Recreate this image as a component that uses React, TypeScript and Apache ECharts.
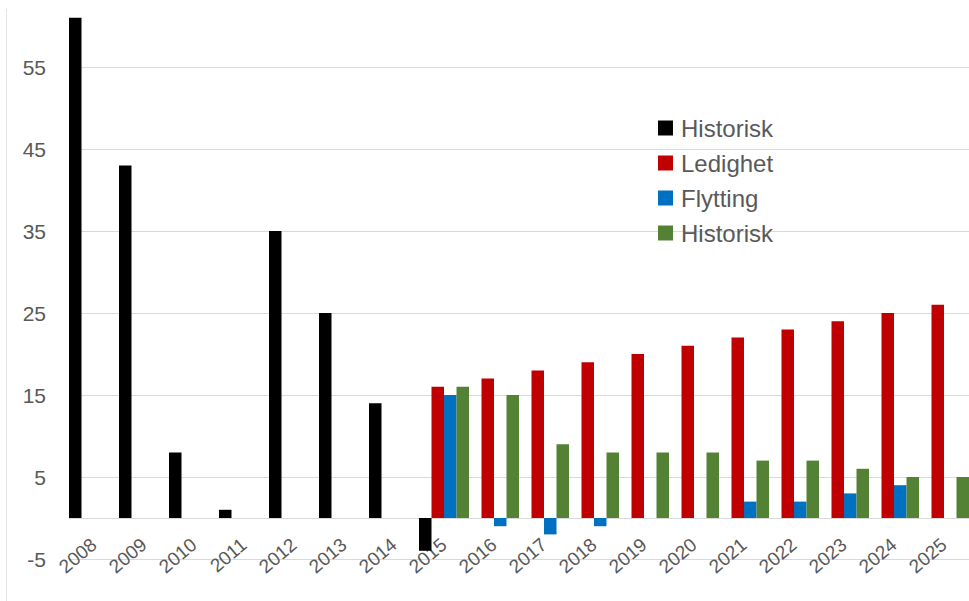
import React, { useEffect, useRef } from "react";
import * as echarts from "echarts";

const categories = ["2008","2009","2010","2011","2012","2013","2014","2015","2016","2017","2018","2019","2020","2021","2022","2023","2024","2025"];
const historisk = [61, 43, 8, 1, 35, 25, 14, -4, null, null, null, null, null, null, null, null, null, null];
const ledighet = [null, null, null, null, null, null, null, 16, 17, 18, 19, 20, 21, 22, 23, 24, 25, 26];
const flytting = [null, null, null, null, null, null, null, 15, -1, -2, -1, null, null, 2, 2, 3, 4, null];
const historisk2 = [null, null, null, null, null, null, null, 16, 15, 9, 8, 8, 8, 7, 7, 6, 5, 5];
const yTicks = [-5, 5, 15, 25, 35, 45, 55];

const legendNames = ["Historisk", "Ledighet", "Flytting", "Historisk"];
const colors = ["#000000", "#C00000", "#0070C0", "#548235"];

export default function App() {
  const ref = useRef<HTMLDivElement>(null);
  useEffect(() => {
    if (!ref.current) return;
    const chart = echarts.init(ref.current, null, { renderer: "svg" });
    const font = "'Liberation Sans', Arial, sans-serif";
    const seriesData = [historisk, ledighet, flytting, historisk2];
    const legendGraphics: any[] = [];
    legendNames.forEach((n, i) => {
      const cy = 128 + i * 35;
      legendGraphics.push({
        type: "rect",
        shape: { x: 658, y: cy - 7.5, width: 15, height: 15 },
        style: { fill: colors[i] },
        z: 100,
      });
      legendGraphics.push({
        type: "text",
        x: 681,
        y: cy,
        style: { text: n, fill: "#595959", fontSize: 24, fontFamily: font, verticalAlign: "middle", align: "left" },
        z: 100,
      });
    });
    legendGraphics.push({
      type: "line",
      shape: { x1: 6.5, y1: 9, x2: 6.5, y2: 601 },
      style: { stroke: "#e3e3e3", lineWidth: 1 },
    });
    chart.setOption({
      animation: false,
      backgroundColor: "#ffffff",
      grid: { left: 69, right: 0, top: -15, bottom: 42, containLabel: false, outerBoundsMode: "none" },
      xAxis: {
        type: "category",
        data: categories,
        axisLine: { onZero: true, lineStyle: { color: "#d9d9d9", width: 1 } },
        axisTick: { show: false },
        axisLabel: { interval: 0, rotate: 40, margin: -17, fontSize: 19, color: "#595959", fontFamily: font },
      },
      yAxis: {
        type: "value",
        min: -5,
        max: 65,
        interval: 10,
        axisLine: { show: false },
        axisTick: { show: false },
        splitLine: { lineStyle: { color: "#d9d9d9", width: 1 } },
        axisLabel: {
          margin: 23,
          fontSize: 21,
          color: "#595959",
          fontFamily: font,
          formatter: (v: number) => (yTicks.includes(v) ? String(v) : ""),
        },
      },
      series: seriesData.map((d, i) => ({
        type: "bar",
        name: legendNames[i] + (i === 3 ? " (2)" : ""),
        data: d,
        itemStyle: { color: colors[i] },
        barGap: "0%",
        barCategoryGap: "0%",
      })),
      graphic: legendGraphics,
    });
    return () => chart.dispose();
  }, []);
  return <div ref={ref} style={{ position: "fixed", left: 0, top: 0, width: 969, height: 601 }} />;
}
